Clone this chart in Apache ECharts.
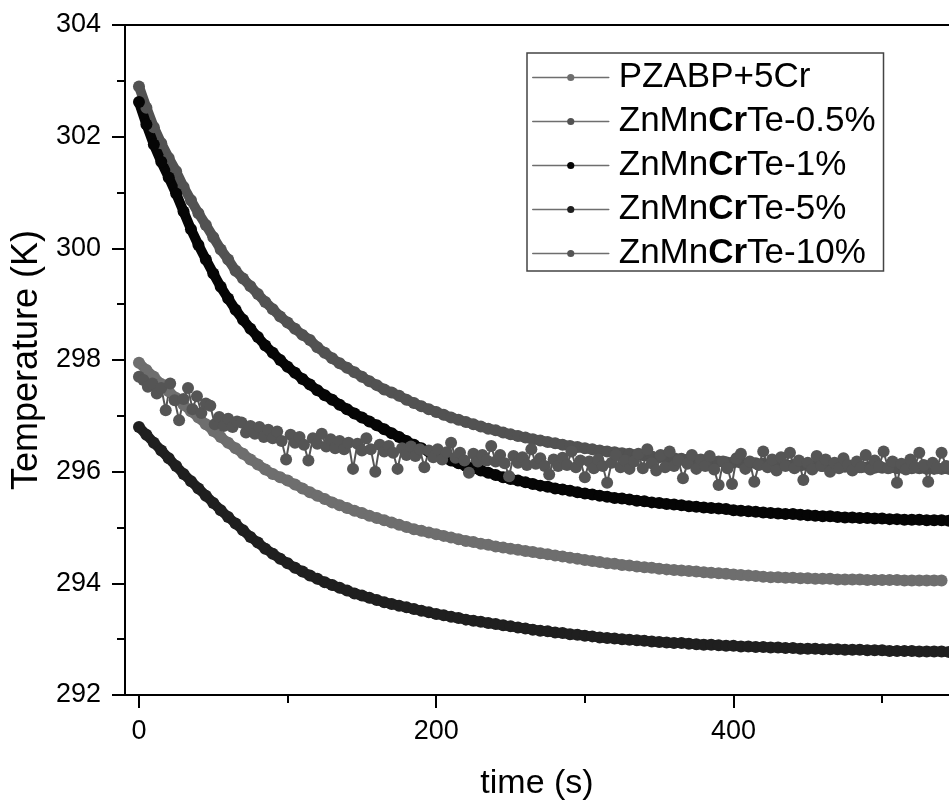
<!DOCTYPE html>
<html>
<head>
<meta charset="utf-8">
<script src="https://cdn.jsdelivr.net/npm/echarts@6/dist/echarts.min.js"></script>
<style>
  html, body { margin: 0; padding: 0; background: #fff; }
  #chart { width: 949px; height: 806px; }
</style>
</head>
<body>
<div id="chart"></div>
<script>
// Sampling times (s)
const timeStep5 = [0,5,10,15,20,25,30,35,40,45,50,55,60,65,70,75,80,85,90,95,100,105,110,115,120,125,130,135,140,145,150,155,160,165,170,175,180,185,190,195,200,205,210,215,220,225,230,235,240,245,250,255,260,265,270,275,280,285,290,295,300,305,310,315,320,325,330,335,340,345,350,355,360,365,370,375,380,385,390,395,400,405,410,415,420,425,430,435,440,445,450,455,460,465,470,475,480,485,490,495,500,505,510,515,520,525,530,535,540,545];
const timeStep3 = [0,3,6,9,12,15,18,21,24,27,30,33,36,39,42,45,48,51,54,57,60,63,66,69,72,75,78,81,84,87,90,93,96,99,102,105,108,111,114,117,120,123,126,129,132,135,138,141,144,147,150,153,156,159,162,165,168,171,174,177,180,183,186,189,192,195,198,201,204,207,210,213,216,219,222,225,228,231,234,237,240,243,246,249,252,255,258,261,264,267,270,273,276,279,282,285,288,291,294,297,300,303,306,309,312,315,318,321,324,327,330,333,336,339,342,345,348,351,354,357,360,363,366,369,372,375,378,381,384,387,390,393,396,399,402,405,408,411,414,417,420,423,426,429,432,435,438,441,444,447,450,453,456,459,462,465,468,471,474,477,480,483,486,489,492,495,498,501,504,507,510,513,516,519,522,525,528,531,534,537,540,543,546];

// Temperatures (K)
const tempPZABP5Cr = [
  297.95,297.82,297.70,297.57,297.44,297.32,297.20,297.08,296.97,296.85,
  296.73,296.62,296.52,296.42,296.32,296.22,296.13,296.04,295.96,295.90,
  295.84,295.77,295.70,295.63,295.57,295.51,295.45,295.40,295.35,295.30,
  295.26,295.21,295.17,295.13,295.09,295.05,295.01,294.97,294.94,294.91,
  294.88,294.85,294.82,294.79,294.76,294.74,294.71,294.69,294.66,294.64,
  294.62,294.60,294.58,294.56,294.54,294.52,294.50,294.48,294.46,294.44,
  294.42,294.40,294.38,294.36,294.35,294.33,294.32,294.30,294.29,294.28,
  294.26,294.25,294.24,294.23,294.22,294.21,294.20,294.19,294.18,294.17,
  294.16,294.15,294.14,294.13,294.12,294.11,294.11,294.10,294.10,294.09,
  294.09,294.08,294.08,294.08,294.07,294.07,294.07,294.07,294.06,294.06,
  294.06,294.06,294.06,294.05,294.05,294.05,294.05,294.05,294.05
];
const tempCr05 = [
  302.90,302.52,302.17,301.88,301.62,301.38,301.10,300.86,300.63,300.42,
  300.20,299.98,299.80,299.60,299.46,299.32,299.18,299.04,298.91,298.78,
  298.67,298.56,298.45,298.36,298.23,298.13,298.03,297.94,297.86,297.78,
  297.70,297.62,297.55,297.47,297.42,297.36,297.29,297.23,297.17,297.12,
  297.07,297.02,296.97,296.93,296.89,296.85,296.81,296.77,296.74,296.70,
  296.67,296.64,296.61,296.58,296.56,296.53,296.51,296.48,296.46,296.44,
  296.42,296.40,296.38,296.36,296.35,296.33,296.32,296.30,296.29,296.27,
  296.26,296.25,296.24,296.23,296.22,296.21,296.20,296.19,296.18,296.17,
  296.17,296.16,296.15,296.15,296.14,296.13,296.13,296.12,296.12,296.11,
  296.11,296.10,296.10,296.09,296.09,296.09,296.08,296.08,296.08,296.07,
  296.07,296.07,296.06,296.06,296.06,296.06,296.05,296.05,296.05,296.05
];
const tempCr1 = [
  302.62,302.22,301.86,301.55,301.27,300.98,300.66,300.34,300.06,299.80,
  299.55,299.31,299.10,298.90,298.72,298.56,298.41,298.26,298.13,298.00,
  297.88,297.77,297.66,297.56,297.46,297.37,297.29,297.20,297.12,297.04,
  296.97,296.90,296.83,296.76,296.69,296.62,296.55,296.48,296.42,296.36,
  296.30,296.25,296.20,296.15,296.10,296.06,296.02,295.98,295.94,295.90,
  295.87,295.84,295.81,295.78,295.75,295.73,295.70,295.68,295.66,295.63,
  295.61,295.59,295.57,295.55,295.53,295.52,295.50,295.48,295.47,295.45,
  295.44,295.42,295.41,295.40,295.38,295.37,295.36,295.35,295.34,295.33,
  295.31,295.30,295.29,295.28,295.27,295.26,295.25,295.24,295.24,295.23,
  295.22,295.21,295.20,295.20,295.19,295.18,295.18,295.17,295.17,295.16,
  295.16,295.15,295.15,295.14,295.14,295.14,295.13,295.13,295.13,295.12
];
const tempCr5 = [
  296.80,296.66,296.52,296.38,296.24,296.10,295.96,295.83,295.70,295.57,
  295.44,295.31,295.19,295.07,294.95,294.83,294.73,294.62,294.53,294.44,
  294.36,294.28,294.21,294.14,294.08,294.02,293.97,293.92,293.87,293.82,
  293.78,293.74,293.70,293.66,293.63,293.60,293.57,293.54,293.51,293.48,
  293.45,293.43,293.40,293.38,293.35,293.33,293.31,293.29,293.27,293.25,
  293.23,293.21,293.19,293.17,293.15,293.14,293.12,293.11,293.09,293.08,
  293.06,293.05,293.03,293.02,293.01,293.00,292.99,292.98,292.97,292.96,
  292.95,292.94,292.93,292.93,292.92,292.91,292.90,292.90,292.89,292.88,
  292.88,292.87,292.87,292.86,292.86,292.85,292.85,292.84,292.84,292.83,
  292.83,292.83,292.82,292.82,292.82,292.81,292.81,292.81,292.80,292.80,
  292.80,292.79,292.79,292.79,292.79,292.78,292.78,292.78,292.78,292.77
];
const tempCr10 = [
  297.70,297.64,297.52,297.58,297.40,297.50,297.10,297.58,297.28,296.92,
  297.30,297.50,297.12,297.35,297.05,297.22,297.18,296.85,296.98,296.82,
  296.95,296.80,296.90,296.88,296.70,296.82,296.68,296.80,296.62,296.75,
  296.60,296.72,296.55,296.22,296.66,296.52,296.62,296.48,296.20,296.60,
  296.50,296.68,296.45,296.58,296.42,296.55,296.40,296.52,296.05,296.50,
  296.38,296.60,296.40,296.00,296.48,296.36,296.46,296.34,296.05,296.42,
  296.30,296.45,296.28,296.40,296.08,296.38,296.26,296.40,296.22,296.35,
  296.52,296.25,296.34,296.20,295.98,296.32,296.18,296.30,296.20,296.46,
  296.18,296.30,296.15,295.92,296.28,296.16,296.26,296.12,296.40,296.14,
  296.24,296.10,295.95,296.22,296.10,296.25,296.12,296.36,296.08,296.20,
  295.90,296.18,296.06,296.22,296.10,295.80,296.16,296.30,296.08,296.20,
  296.05,296.18,296.32,296.06,296.40,296.15,296.02,296.30,296.08,296.36,
  296.10,296.20,295.88,296.14,296.30,296.05,296.22,296.10,296.28,296.04,
  295.76,296.18,296.06,295.78,296.24,296.32,296.05,296.18,295.82,296.12,
  296.36,296.08,296.22,296.02,296.26,296.10,296.34,296.06,296.20,295.85,
  296.16,296.04,296.28,296.10,296.22,296.00,296.16,296.06,296.24,296.12,
  296.02,296.18,296.08,296.30,296.04,296.20,296.10,296.36,296.06,296.18,
  295.80,296.14,296.04,296.22,296.08,296.34,296.12,295.82,296.16,296.06,
  296.34,296.10,296.20
];

const seriesNames = ['PZABP+5Cr', 'ZnMnCrTe-0.5%', 'ZnMnCrTe-1%', 'ZnMnCrTe-5%', 'ZnMnCrTe-10%'];
const xMajorTicks = [0, 200, 400];
const xMinorTicks = [100, 300, 500];

const FONT = 'Liberation Sans, Arial, sans-serif';

function pairUp(times, temps) {
  return temps.map((v, i) => [times[i], v]);
}

// Dense recordings: the dots merge into a band, so the joining stroke is
// drawn nearly as wide as the dots for the smooth runs.
function lineSeries(name, times, temps, color, strokeWidth) {
  return {
    name: name,
    type: 'line',
    xAxisIndex: 0,
    yAxisIndex: 0,
    data: pairUp(times, temps),
    symbol: 'circle',
    symbolSize: 12,
    showAllSymbol: true,
    itemStyle: { color: color },
    lineStyle: { color: color, width: strokeWidth, cap: 'round', join: 'round' },
    emphasis: { disabled: true },
    clip: true
  };
}

const chart = echarts.init(document.getElementById('chart'), null, { renderer: 'canvas' });

const tickStyle = { color: '#000', width: 2 };

chart.setOption({
  animation: false,
  backgroundColor: '#fff',
  grid: { left: 125, right: 0, top: 25, bottom: 111 },
  legend: {
    orient: 'vertical',
    left: 527,
    top: 53,
    data: seriesNames,
    itemWidth: 76,
    itemHeight: 9,
    itemGap: 9,
    padding: [7, 8, 0, 5],
    borderColor: '#444',
    borderWidth: 1.5,
    backgroundColor: '#fff',
    selectedMode: false,
    lineStyle: { color: '#6e6e6e', width: 1.5 },
    formatter: function (name) {
      const m = name.match(/^(ZnMn)(Cr)(.*)$/);
      if (m) return '{s|}{n|' + m[1] + '}{b|' + m[2] + '}{n|' + m[3] + '}';
      return '{s|}{n|' + name + '}';
    },
    textStyle: {
      rich: {
        s: { width: 5 },
        n: { fontSize: 35, fontFamily: FONT, color: '#000', lineHeight: 30 },
        b: { fontSize: 35, fontFamily: FONT, color: '#000', fontWeight: 'bold', lineHeight: 30 }
      }
    }
  },
  xAxis: [
    {
      type: 'value', min: -9.4, max: 545, position: 'bottom',
      axisLine: { show: true, onZero: false, lineStyle: tickStyle },
      axisTick: { show: true, customValues: xMajorTicks, length: 13, lineStyle: tickStyle },
      axisLabel: { customValues: xMajorTicks, fontSize: 27, fontFamily: FONT, color: '#000', margin: 23 },
      splitLine: { show: false },
      name: 'time (s)', nameLocation: 'middle', nameGap: 72,
      nameTextStyle: { fontSize: 34, fontFamily: FONT, color: '#000' }
    },
    {
      type: 'value', min: -9.4, max: 545, position: 'bottom',
      axisLine: { show: false, onZero: false },
      axisTick: { show: true, customValues: xMinorTicks, length: 8, lineStyle: tickStyle },
      axisLabel: { show: false },
      splitLine: { show: false }
    },
    {
      type: 'value', min: -9.4, max: 545, position: 'top',
      axisLine: { show: true, onZero: false, lineStyle: tickStyle },
      axisTick: { show: false },
      axisLabel: { show: false },
      splitLine: { show: false }
    }
  ],
  yAxis: {
    type: 'value', min: 292, max: 304, interval: 2,
    axisLine: { show: true, onZero: false, lineStyle: tickStyle },
    axisTick: { show: true, length: 13, lineStyle: tickStyle },
    minorTick: { show: true, splitNumber: 2, length: 8, lineStyle: tickStyle },
    axisLabel: { fontSize: 27, fontFamily: FONT, color: '#000', margin: 24 },
    splitLine: { show: false },
    minorSplitLine: { show: false },
    name: 'Temperature (K)', nameLocation: 'middle', nameGap: 76,
    nameTextStyle: { fontSize: 36, fontFamily: FONT, color: '#000' }
  },
  series: [
    lineSeries(seriesNames[0], timeStep5, tempPZABP5Cr, '#6e6e6e', 10),
    lineSeries(seriesNames[1], timeStep5, tempCr05, '#525252', 10),
    lineSeries(seriesNames[2], timeStep5, tempCr1, '#050505', 10),
    lineSeries(seriesNames[3], timeStep5, tempCr5, '#1f1f1f', 10),
    lineSeries(seriesNames[4], timeStep3, tempCr10, '#555555', 2)
  ]
});
</script>
</body>
</html>
